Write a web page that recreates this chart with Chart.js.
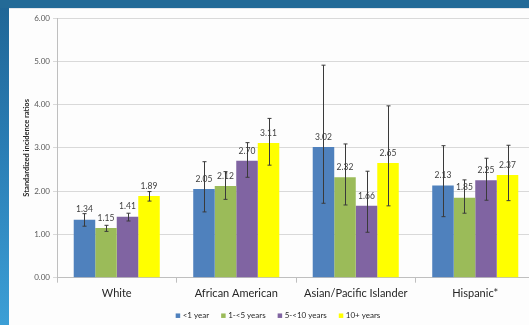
<!DOCTYPE html>
<html>
<head>
<meta charset="utf-8">
<script src="https://cdn.jsdelivr.net/npm/chart.js@4/dist/chart.umd.min.js"></script>
<style>
  html, body { margin: 0; padding: 0; }
  body {
    width: 529px; height: 325px; overflow: hidden; position: relative;
    background: linear-gradient(to bottom, #1f6595 0%, #2a7db4 45%, #3c9fd6 100%);
  }
  #topband { position: absolute; left: 0; top: 0; width: 529px; height: 8px; background: #236a97; }
  #panel {
    position: absolute; left: 9px; top: 8px; width: 540px; height: 317px;
    background: #fdfdfd; border-top: 1px solid #e4e6ea; box-sizing: border-box;
  }
  #wrap { position: absolute; left: 9px; top: 8px; width: 536px; height: 317px; }
</style>
</head>
<body>
<div id="topband"></div>
<div id="panel"></div>
<div id="wrap"><canvas id="c" width="536" height="317"></canvas></div>
<script>
// Population groups along the x axis
const categories = ['White', 'African American', 'Asian/Pacific Islander', 'Hispanic*'];

// Time since arrival groups
const seriesNames = ['<1 year', '1-<5 years', '5-<10 years', '10+ years'];
const seriesColors = ['#4f81bd', '#9bbb59', '#8064a2', '#ffff00'];

// Standardized incidence ratios per series (one value per category)
const lessThan1 = [1.34, 2.05, 3.02, 2.13];
const oneTo5 = [1.15, 2.12, 2.32, 1.85];
const fiveTo10 = [1.41, 2.70, 1.66, 2.25];
const tenPlus = [1.89, 3.11, 2.65, 2.37];

// 95% confidence interval bounds
const lessThan1Low = [1.19, 1.52, 1.72, 1.41];
const lessThan1High = [1.48, 2.68, 4.91, 3.05];
const oneTo5Low = [1.07, 1.81, 1.68, 1.49];
const oneTo5High = [1.21, 2.45, 3.09, 2.26];
const fiveTo10Low = [1.31, 2.32, 1.05, 1.79];
const fiveTo10High = [1.49, 3.12, 2.46, 2.76];
const tenPlusLow = [1.77, 2.60, 1.66, 1.78];
const tenPlusHigh = [1.99, 3.68, 3.97, 3.06];

// Y axis tick values
const yTicks = [0, 1, 2, 3, 4, 5, 6];

const seriesValues = [lessThan1, oneTo5, fiveTo10, tenPlus];
const seriesLow = [lessThan1Low, oneTo5Low, fiveTo10Low, tenPlusLow];
const seriesHigh = [lessThan1High, oneTo5High, fiveTo10High, tenPlusHigh];

Chart.defaults.font.family = 'Lato, "Open Sans", sans-serif';

// Value labels above each bar
const valueLabels = {
  id: 'valueLabels',
  afterDatasetsDraw(chart) {
    const ctx = chart.ctx;
    ctx.save();
    ctx.font = '8.5px Lato, "Open Sans", sans-serif';
    ctx.fillStyle = '#404040';
    ctx.textAlign = 'center';
    ctx.textBaseline = 'middle';
    chart.data.datasets.forEach((ds, di) => {
      chart.getDatasetMeta(di).data.forEach((bar, i) => {
        ctx.fillText(ds.data[i].toFixed(2), bar.x, bar.y - 10);
      });
    });
    ctx.restore();
  }
};

// Confidence interval whiskers
const errorBars = {
  id: 'errorBars',
  afterDatasetsDraw(chart) {
    const ctx = chart.ctx;
    const y = chart.scales.y;
    ctx.save();
    ctx.strokeStyle = '#3a3a3a';
    ctx.lineWidth = 1;
    chart.data.datasets.forEach((ds, di) => {
      chart.getDatasetMeta(di).data.forEach((bar, i) => {
        const x = Math.round(bar.x) + 0.5;
        const yl = y.getPixelForValue(seriesLow[di][i]);
        const yh = y.getPixelForValue(seriesHigh[di][i]);
        ctx.beginPath();
        ctx.moveTo(x, yl); ctx.lineTo(x, yh);
        ctx.moveTo(x - 2, yl); ctx.lineTo(x + 2, yl);
        ctx.moveTo(x - 2, yh); ctx.lineTo(x + 2, yh);
        ctx.stroke();
      });
    });
    ctx.restore();
  }
};

// Legend row under the category labels
const bottomLegend = {
  id: 'bottomLegend',
  afterDraw(chart) {
    const ctx = chart.ctx;
    ctx.save();
    ctx.font = '8px Lato, "Open Sans", sans-serif';
    ctx.textBaseline = 'middle';
    ctx.textAlign = 'left';
    const box = 4.5, gapBox = 2.5, gapItem = 12;
    const widths = seriesNames.map(n => box + gapBox + ctx.measureText(n).width);
    const total = widths.reduce((a, b) => a + b, 0) + gapItem * (widths.length - 1);
    let x = 269 - total / 2;
    const yc = 307.7;
    seriesNames.forEach((n, i) => {
      ctx.fillStyle = seriesColors[i];
      ctx.fillRect(x, yc - box / 2, box, box);
      ctx.fillStyle = '#262626';
      ctx.fillText(n, x + box + gapBox, yc);
      x += widths[i] + gapItem;
    });
    ctx.restore();
  }
};

new Chart(document.getElementById('c'), {
  type: 'bar',
  data: {
    labels: categories,
    datasets: seriesNames.map((name, i) => ({
      label: name,
      data: seriesValues[i],
      backgroundColor: seriesColors[i],
      borderWidth: 0,
      categoryPercentage: 0.72,
      barPercentage: 1.0
    }))
  },
  options: {
    responsive: false,
    animation: false,
    layout: { padding: { top: 10, right: 10, bottom: 0, left: 0 } },
    plugins: { legend: { display: false }, tooltip: { enabled: false } },
    scales: {
      x: {
        grid: { display: true, drawOnChartArea: false, drawTicks: true, tickLength: 5, color: '#bfbfbf', offset: true },
        border: { color: '#bfbfbf' },
        ticks: { color: '#262626', font: { size: 11 }, padding: 4, maxRotation: 0, autoSkip: false },
        afterFit(scale) { scale.height = 47.3; }
      },
      y: {
        min: 0, max: 6,
        afterBuildTicks(scale) { scale.ticks = yTicks.map(v => ({ value: v })); },
        grid: { color: '#d9d9d9', tickLength: 4, drawTicks: true },
        border: { color: '#bfbfbf' },
        ticks: { color: '#595959', font: { size: 8 }, padding: 3, callback: v => v.toFixed(2) },
        title: {
          display: true, text: 'Standardized incidence ratios', color: '#262626',
          font: { size: 7.5, weight: 'bold' }, padding: { top: 13, bottom: 0 }
        },
        afterFit(scale) { scale.width = 48; }
      }
    }
  },
  plugins: [valueLabels, errorBars, bottomLegend]
});
</script>
</body>
</html>
